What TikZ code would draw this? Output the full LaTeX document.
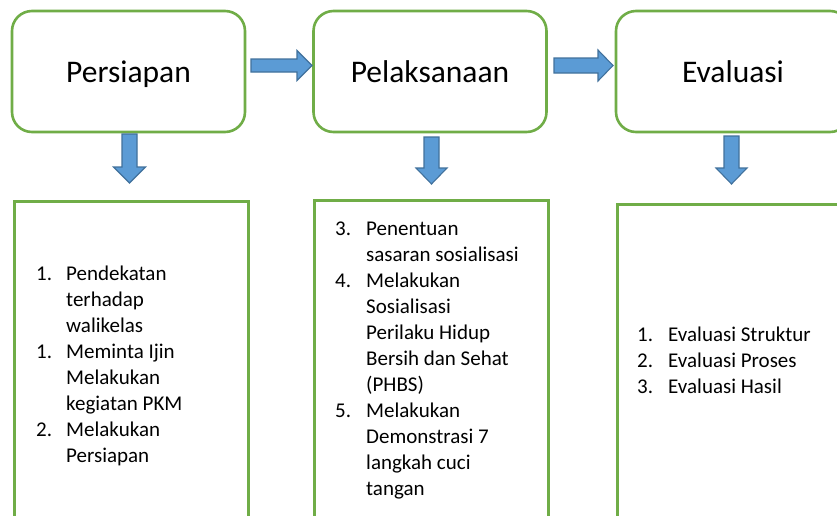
\documentclass[tikz,border=0pt]{standalone}
\usepackage{fontspec}
\setmainfont{Carlito}
\usetikzlibrary{calc}
\definecolor{boxgreen}{HTML}{70AD47}
\definecolor{arrowblue}{HTML}{5B9BD5}
\definecolor{arrowdark}{HTML}{41719C}
\begin{document}
\begin{tikzpicture}[x=1pt,y=1pt,
  topbox/.style={draw=boxgreen, line width=2.6pt, rounded corners=20pt, minimum width=233pt, minimum height=121pt, inner sep=0pt, text height=21pt, text depth=0pt, font=\fontsize{31.5}{36}\selectfont},
  bottombox/.style={draw=boxgreen, line width=2.6pt, minimum width=234pt, minimum height=340pt, anchor=north west, inner sep=0pt},
  blk/.style={fill=arrowblue, draw=arrowdark, line width=1.1pt, line join=miter},
  listtxt/.style={anchor=base west, inner sep=0pt, font=\fontsize{21}{26}\selectfont}
]
\useasboundingbox (0,0) rectangle (837,-515);
\clip (0,0) rectangle (837,-515);
\fill[white] (0,0) rectangle (837,-515);

% top boxes
\node[topbox] (p) at (128.5,-71.5) {Persiapan};
\node[topbox] (q) at (430,-71.5) {Pelaksanaan};
\node[topbox, minimum width=234pt] (r) at (733,-71.5) {Evaluasi};

% horizontal block arrows
\draw[blk, shift={(251,-65.5)}] (0,6.5) -- (46,6.5) -- (46,15) -- (61,0) -- (46,-15) -- (46,-6.5) -- (0,-6.5) -- cycle;
\draw[blk, shift={(554,-65.5)}] (0,7.5) -- (44,7.5) -- (44,15.5) -- (59,0) -- (44,-15.5) -- (44,-7.5) -- (0,-7.5) -- cycle;

% vertical block arrows
\draw[blk, shift={(129.5,-134)}] (-7.5,0) -- (7.5,0) -- (7.5,-33) -- (16,-33) -- (0,-49) -- (-16,-33) -- (-7.5,-33) -- cycle;
\draw[blk, shift={(431.5,-137)}] (-7.5,0) -- (7.5,0) -- (7.5,-31) -- (15.5,-31) -- (0,-47) -- (-15.5,-31) -- (-7.5,-31) -- cycle;
\draw[blk, shift={(731.5,-136)}] (-7.5,0) -- (7.5,0) -- (7.5,-32) -- (15.5,-32) -- (0,-48) -- (-15.5,-32) -- (-7.5,-32) -- cycle;

% bottom boxes
\node[bottombox] (A) at (13,-200) {};
\node[bottombox] (B) at (313,-199) {};
\node[bottombox, minimum width=260pt] (C) at (616,-203) {};

% list A
\node[listtxt] (an1) at (36,-280) {1.};
\node[listtxt] (an2) at (36,-358) {1.};
\node[listtxt] (an3) at (36,-436) {2.};
\foreach \t [count=\i from 0] in {Pendekatan,terhadap,walikelas,Meminta Ijin,Melakukan,kegiatan PKM,Melakukan,Persiapan}
  \node[listtxt] (a\i) at (66,-280-26*\i) {\t};

% list B
\node[listtxt] (bn1) at (335,-235) {3.};
\node[listtxt] (bn2) at (335,-287) {4.};
\node[listtxt] (bn3) at (335,-417) {5.};
\foreach \t [count=\i from 0] in {Penentuan,sasaran sosialisasi,Melakukan,Sosialisasi,Perilaku Hidup,Bersih dan Sehat,{(PHBS)},Melakukan,Demonstrasi 7,langkah cuci,tangan}
  \node[listtxt] (b\i) at (366,-235-26*\i) {\t};

% list C
\node[listtxt] (cn1) at (637,-341) {1.};
\node[listtxt] (cn2) at (637,-367) {2.};
\node[listtxt] (cn3) at (637,-393) {3.};
\node[listtxt] (c1) at (668,-341) {Evaluasi Struktur};
\node[listtxt] (c2) at (668,-367) {Evaluasi Proses};
\node[listtxt] (c3) at (668,-393) {Evaluasi Hasil};
\end{tikzpicture}
\end{document}
